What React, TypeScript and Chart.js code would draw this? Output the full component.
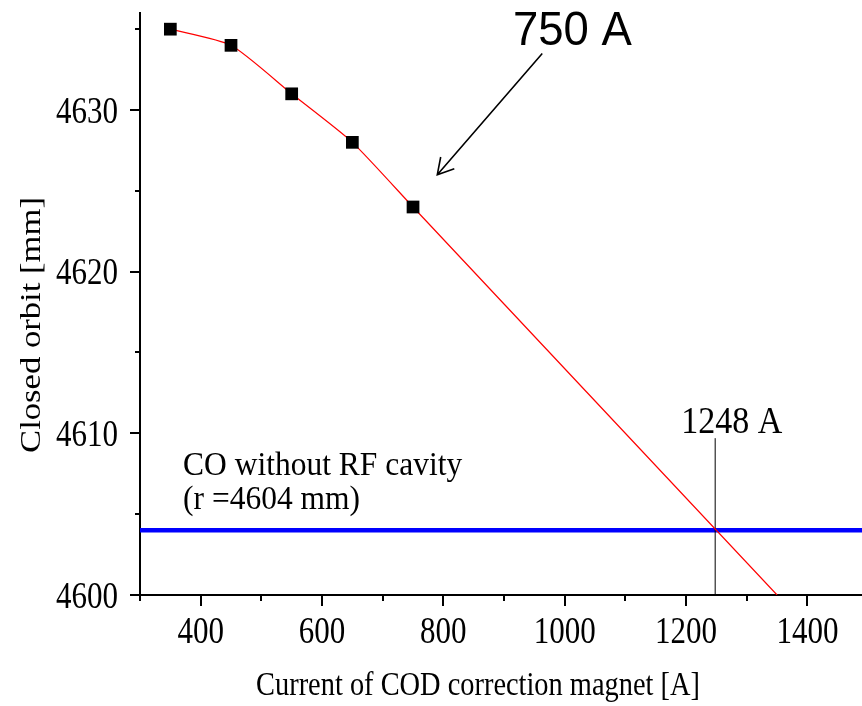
import { useEffect, useRef } from "react";
import { Chart, registerables } from "chart.js";

Chart.register(...registerables);

// Measured closed orbit vs. COD correction magnet current
const measuredCurrent = [350, 450, 550, 650, 750];
const measuredOrbit = [4635, 4634, 4631, 4628, 4624];

// Smoothed fit through the measurements, extrapolated linearly down to 4600 mm
const fitCurrent = [350, 450, 550, 650, 750, 1350];
const fitOrbit = [4635, 4634, 4631, 4628, 4624, 4600];

// Closed orbit without RF cavity
const noRfCurrent = [300, 1490];
const noRfOrbit = [4604, 4604];

// Crossing marker
const crossingCurrent = [1248, 1248];
const crossingOrbit = [4600, 4609.7];

// Axis ranges and ticks
const X_MIN = 300;
const X_MAX = 1490;
const Y_MIN = 4600;
const Y_MAX = 4636;
const xMajorTicks = [400, 600, 800, 1000, 1200, 1400];
const xMinorTicks = [300, 500, 700, 900, 1100, 1300];
const yMajorTicks = [4600, 4610, 4620, 4630];
const yMinorTicks = [4605, 4615, 4625, 4635];

const xTitle = "Current of COD correction magnet [A]";
const yTitle = "Closed orbit [mm]";

const pairs = (xs: number[], ys: number[]) => xs.map((x, i) => ({ x, y: ys[i] }));

function drawText(
  ctx: CanvasRenderingContext2D,
  text: string,
  x: number,
  y: number,
  font: string,
  stretch: number,
  align: CanvasTextAlign
) {
  ctx.save();
  ctx.translate(x, y);
  ctx.scale(1, stretch);
  ctx.font = font;
  ctx.textAlign = align;
  ctx.textBaseline = "alphabetic";
  ctx.fillStyle = "#000";
  ctx.fillText(text, 0, 0);
  ctx.restore();
}

const decorations = {
  id: "decorations",
  afterDraw(chart: any) {
    const ctx: CanvasRenderingContext2D = chart.ctx;
    const xs = chart.scales.x;
    const ys = chart.scales.y;
    const area = chart.chartArea;
    const serif = "'Liberation Serif', 'Times New Roman', serif";

    ctx.save();
    ctx.strokeStyle = "#000";
    ctx.lineWidth = 2;
    ctx.lineCap = "butt";

    // x-axis ticks (outward)
    const drawXTick = (v: number, len: number) => {
      const px = Math.round(xs.getPixelForValue(v));
      ctx.beginPath();
      ctx.moveTo(px, area.bottom);
      ctx.lineTo(px, area.bottom + len);
      ctx.stroke();
    };
    xMajorTicks.forEach((v) => drawXTick(v, 11));
    xMinorTicks.forEach((v) => drawXTick(v, 6));

    // y-axis ticks (outward)
    const drawYTick = (v: number, len: number) => {
      const py = Math.round(ys.getPixelForValue(v));
      ctx.beginPath();
      ctx.moveTo(area.left, py);
      ctx.lineTo(area.left - len, py);
      ctx.stroke();
    };
    yMajorTicks.forEach((v) => drawYTick(v, 10));
    yMinorTicks.forEach((v) => drawYTick(v, 5));
    ctx.restore();

    // tick labels
    xMajorTicks.forEach((v) => {
      drawText(ctx, String(v), xs.getPixelForValue(v), 643, `31px ${serif}`, 1.2, "center");
    });
    yMajorTicks.forEach((v) => {
      drawText(ctx, String(v), 118, ys.getPixelForValue(v) + 12.6, `31px ${serif}`, 1.2, "right");
    });

    // axis titles
    drawText(ctx, xTitle, 478, 695, `28.4px ${serif}`, 1.2, "center");
    ctx.save();
    ctx.translate(40, 325);
    ctx.rotate(-Math.PI / 2);
    ctx.scale(1.22, 1);
    ctx.font = `28.4px ${serif}`;
    ctx.textAlign = "center";
    ctx.textBaseline = "alphabetic";
    ctx.fillStyle = "#000";
    ctx.fillText(yTitle, 0, 0);
    ctx.restore();

    // crossing label
    drawText(
      ctx,
      `${crossingCurrent[0]} A`,
      xs.getPixelForValue(1192),
      ys.getPixelForValue(4610),
      `34px ${serif}`,
      1.09,
      "left"
    );

    // reference orbit label
    const coX = xs.getPixelForValue(371);
    drawText(ctx, "CO without RF cavity", coX, ys.getPixelForValue(4607.4), `31.5px ${serif}`, 1.07, "left");
    drawText(ctx, `(r =${noRfOrbit[0]} mm)`, coX, ys.getPixelForValue(4605.35), `31.5px ${serif}`, 1.07, "left");

    // annotation arrow pointing at the bend of the curve
    const tipX = xs.getPixelForValue(790);
    const tipY = ys.getPixelForValue(4626);
    const tailX = xs.getPixelForValue(963);
    const tailY = ys.getPixelForValue(4633.5);
    ctx.save();
    ctx.strokeStyle = "#000";
    ctx.lineWidth = 1.6;
    ctx.beginPath();
    ctx.moveTo(tailX, tailY);
    ctx.lineTo(tipX, tipY);
    const ang = Math.atan2(tailY - tipY, tailX - tipX);
    const head = 18;
    const spread = (30 * Math.PI) / 180;
    ctx.moveTo(tipX + head * Math.cos(ang - spread), tipY + head * Math.sin(ang - spread));
    ctx.lineTo(tipX, tipY);
    ctx.lineTo(tipX + head * Math.cos(ang + spread), tipY + head * Math.sin(ang + spread));
    ctx.stroke();
    ctx.restore();

    drawText(
      ctx,
      `${measuredCurrent[4]} A`,
      513,
      45,
      "45.5px 'Liberation Sans', Arial, sans-serif",
      1.07,
      "left"
    );
  },
};

export default function App() {
  const canvasRef = useRef<HTMLCanvasElement | null>(null);

  useEffect(() => {
    const canvas = canvasRef.current;
    if (!canvas) return;
    const chart = new Chart(canvas, {
      type: "scatter",
      data: {
        datasets: [
          {
            label: "Measured",
            data: pairs(measuredCurrent, measuredOrbit),
            showLine: false,
            pointStyle: "rect",
            pointRadius: 9,
            pointBackgroundColor: "#000",
            pointBorderWidth: 0,
            order: 0,
          },
          {
            label: "Fit",
            data: pairs(fitCurrent, fitOrbit),
            showLine: true,
            borderColor: "#ff0000",
            borderWidth: 1.2,
            pointRadius: 0,
            tension: 0.2,
            order: 1,
          },
          {
            label: "Crossing",
            data: pairs(crossingCurrent, crossingOrbit),
            showLine: true,
            borderColor: "#000",
            borderWidth: 1,
            pointRadius: 0,
            order: 2,
          },
          {
            label: "CO without RF cavity",
            data: pairs(noRfCurrent, noRfOrbit),
            showLine: true,
            borderColor: "#0000ff",
            borderWidth: 4.5,
            pointRadius: 0,
            order: 3,
          },
        ],
      },
      options: {
        responsive: false,
        animation: false,
        events: [],
        layout: { autoPadding: false, padding: { top: 13, left: 0, right: 0, bottom: 0 } },
        plugins: {
          legend: { display: false },
          tooltip: { enabled: false },
          title: { display: false },
        },
        scales: {
          x: {
            type: "linear",
            position: "bottom",
            min: X_MIN,
            max: X_MAX,
            grid: { display: false },
            border: { display: true, color: "#000", width: 2 },
            ticks: { display: false },
            afterFit: (s: any) => {
              s.height = 111;
            },
          },
          y: {
            type: "linear",
            min: Y_MIN,
            max: Y_MAX,
            grid: { display: false },
            border: { display: true, color: "#000", width: 2 },
            ticks: { display: false },
            afterFit: (s: any) => {
              s.width = 140;
            },
          },
        },
      },
      plugins: [decorations],
    });
    return () => chart.destroy();
  }, []);

  return (
    <div style={{ position: "fixed", left: 0, top: 0, width: 862, height: 706, background: "#fff" }}>
      <canvas ref={canvasRef} width={862} height={706} style={{ display: "block" }} />
    </div>
  );
}
